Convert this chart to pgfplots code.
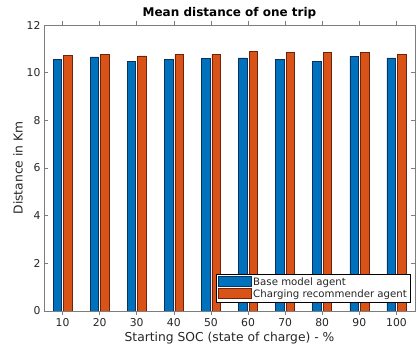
\documentclass[border=0pt]{standalone}
\usepackage{pgfplots}
\pgfplotsset{compat=1.18}
\usepackage{fontspec}
\setmainfont{DejaVu Sans}
\definecolor{mblue}{RGB}{0,114,189}
\definecolor{morange}{RGB}{217,83,25}
\definecolor{mblueedge}{RGB}{10,50,90}
\definecolor{morangeedge}{RGB}{110,35,10}
\definecolor{axgray}{RGB}{125,125,125}
\definecolor{txt}{RGB}{38,38,38}
\begin{document}
\begin{tikzpicture}
\begin{axis}[
 at={(44pt,36pt)}, anchor=south west,
 scale only axis, width=371pt, height=286pt,
 xmin=5, xmax=105, ymin=0, ymax=12,
 xtick={10,20,...,100}, ytick={0,2,...,12},
 tick align=inside, major tick length=4pt,
 axis line style={axgray}, tick style={axgray, line width=0.5pt},
 ticklabel style={font=\fontsize{10.8}{12}\selectfont, text=txt},
 /pgf/number format/assume math mode=true,
 title={\bfseries Mean distance of one trip},
 title style={font=\fontsize{12}{14}\selectfont, text=black, yshift=-4pt},
 xlabel={Starting SOC (state of charge) - \%},
 ylabel={Distance in Km},
 label style={font=\fontsize{12.3}{14}\selectfont, text=txt},
 xlabel style={yshift=1.5pt},
 ylabel style={yshift=-3pt},
 ybar, bar width=2.3,
 legend style={at={(0.987,0.031)}, anchor=south east, draw=black, line width=0.5pt,
   font=\fontsize{10.2}{11.5}\selectfont, text=txt, inner sep=1pt, row sep=-1pt,
   cells={anchor=west}},
 legend image code/.code={\draw[#1, ybar] (0pt,-4.5pt) rectangle (33pt,5.5pt);},
]
\addplot[fill=mblue, draw=mblueedge, line width=0.6pt, bar shift=-1.42] coordinates {
 (10,10.57) (20,10.66) (30,10.48) (40,10.55) (50,10.60)
 (60,10.62) (70,10.56) (80,10.48) (90,10.69) (100,10.62)};
\addplot[fill=morange, draw=morangeedge, line width=0.6pt, bar shift=1.42] coordinates {
 (10,10.73) (20,10.77) (30,10.70) (40,10.77) (50,10.77)
 (60,10.88) (70,10.84) (80,10.84) (90,10.86) (100,10.77)};
\legend{Base model agent, Charging recommender agent}
\end{axis}
\pgfresetboundingbox
\path[use as bounding box] (0,0) rectangle (416pt,347pt);
\end{tikzpicture}
\end{document}
